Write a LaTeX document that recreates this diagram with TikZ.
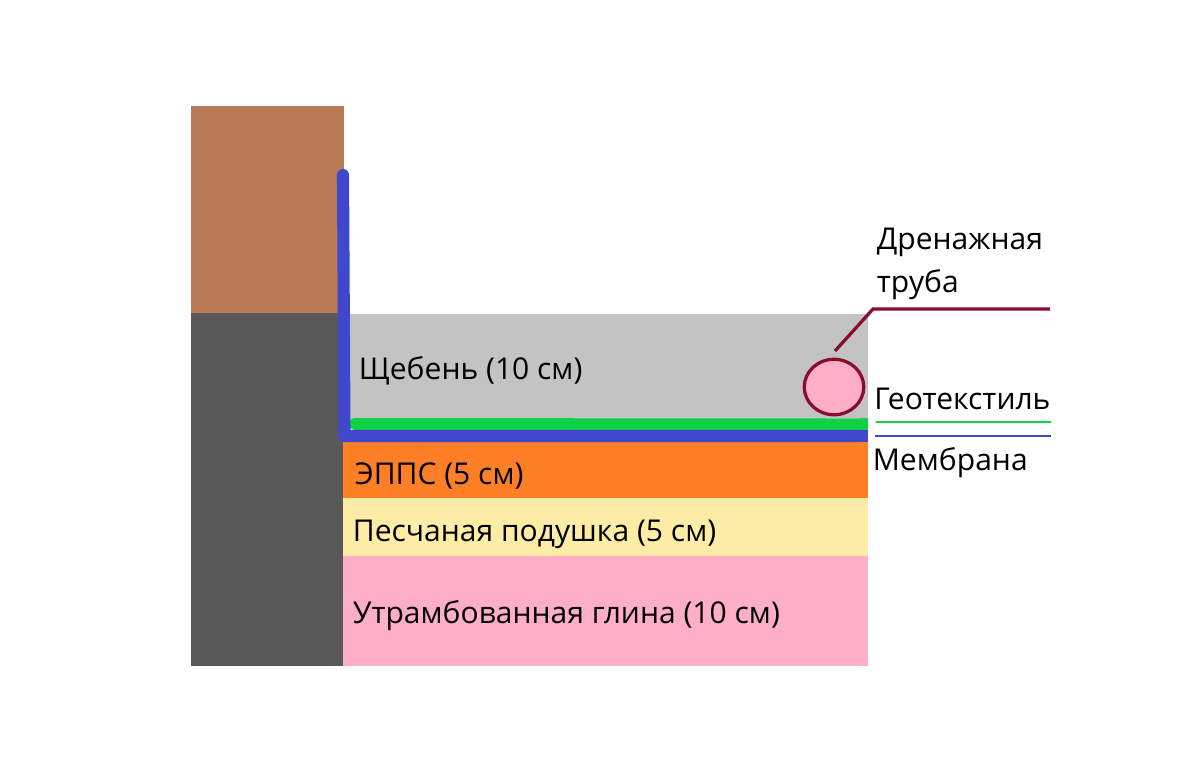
\documentclass[tikz,border=0pt]{standalone}
\usepackage{fontspec}
\usetikzlibrary{shapes.geometric}
\setmainfont{Open Sans}
\definecolor{brick}{HTML}{B97A56}
\definecolor{wall}{HTML}{585858}
\definecolor{gravel}{HTML}{C3C3C3}
\definecolor{foam}{HTML}{FF7F27}
\definecolor{sand}{HTML}{FDECA6}
\definecolor{clay}{HTML}{FFAEC8}
\definecolor{membrane}{HTML}{3F48CC}
\definecolor{geotex}{HTML}{0ED145}
\definecolor{pipeline}{HTML}{880D2E}
\tikzset{
    caption/.style={anchor=west, inner sep=0pt, font=\fontsize{17.1}{20}\selectfont},
    leader/.style={line width=1.85pt, line join=miter}
}
\begin{document}
\begin{tikzpicture}[x=0.02cm, y=-0.02cm]
    \useasboundingbox (0,0) rectangle (1200,771);

    \fill[brick] (191,106) rectangle (344,313);
    \fill[wall] (191,313) rectangle (343,666);
    \fill[gravel] (344,314) rectangle (868,425);
    \fill[foam] (343,440) rectangle (868,498);
    \fill[sand] (343,498) rectangle (868,556);
    \fill[clay] (343,556) rectangle (868,666);

    \draw[geotex, line width=6.8pt, line cap=round] (355,424) -- (860,424.5);
    \fill[geotex] (860,418) rectangle (868,430.5);
    \draw[membrane, line width=6.9pt, line cap=round, line join=round] (343,175) -- (344.5,436) -- (860,436);
    \fill[membrane] (860,430) rectangle (868,442);

    \node[caption] (gravel) at (358.5,371) {Щебень (10 см)};
    \node[caption] (foam) at (354.5,476) {ЭППС (5 см)};
    \node[caption] (sand) at (352.5,534) {Песчаная подушка (5 см)};
    \node[caption] (clay) at (352.5,616) {Утрамбованная глина (10 см)};

    \node[draw=pipeline, fill=clay, ellipse, line width=1.85pt, minimum width=1.19cm, minimum height=1.11cm, inner sep=0pt] (pipe) at (834,387) {};

    \node[caption] (drain) at (876.5,242) {Дренажная};
    \node[caption] (tube) at (876.5,285) {труба};
    \node[caption] (geo) at (874,399) {Геотекстиль};
    \node[caption] (mem) at (872.5,463) {Мембрана};

    \coordinate (bend) at (873,309);
    \coordinate (tail) at (1050,309);
    \coordinate (tip) at (835,351);
    \draw[pipeline, leader] (tip) -- (bend) -- (tail);

    \coordinate (geoa) at (876,422);
    \coordinate (geob) at (1051,422);
    \coordinate (mema) at (875,436);
    \coordinate (memb) at (1051,436);
    \draw[geotex, line width=1.6pt] (geoa) -- (geob);
    \draw[membrane, line width=1.6pt] (mema) -- (memb);
\end{tikzpicture}
\end{document}
